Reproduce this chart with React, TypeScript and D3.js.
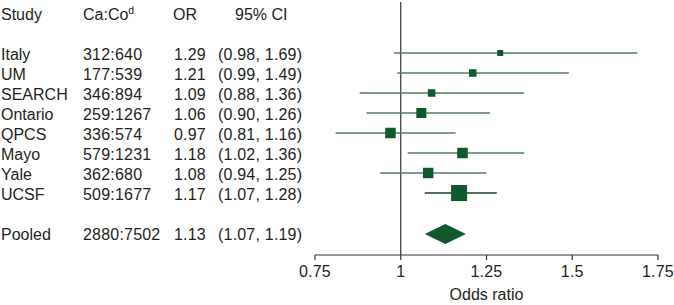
import React from "react";
import * as d3 from "d3";

const studies = ["Italy", "UM", "SEARCH", "Ontario", "QPCS", "Mayo", "Yale", "UCSF"];
const caco = ["312:640", "177:539", "346:894", "259:1267", "336:574", "579:1231", "362:680", "509:1677"];
const orValues = [1.29, 1.21, 1.09, 1.06, 0.97, 1.18, 1.08, 1.17];
const ciLow = [0.98, 0.99, 0.88, 0.9, 0.81, 1.02, 0.94, 1.07];
const ciHigh = [1.69, 1.49, 1.36, 1.26, 1.16, 1.36, 1.25, 1.28];
const weights = [6, 7.5, 7.5, 10, 10.5, 10.5, 10.5, 16];
const pooled = { label: "Pooled", caco: "2880:7502", or: 1.13, lo: 1.07, hi: 1.19 };
const ticks = [0.75, 1, 1.25, 1.5, 1.75];
const tickLabels = ["0.75", "1", "1.25", "1.5", "1.75"];

const W = 674;
const H = 305;
const FONT = "'Liberation Sans', Arial, Helvetica, sans-serif";
const SQ = "#0f5a2d";
const LN = "#4f7f5f";
const AX = "#333333";
const TX = "#231f20";

const fmt = (v: number) => v.toFixed(2);

export default function App() {
  const x = d3.scaleLinear().domain([0.75, 1.75]).range([315, 658]);
  const y = d3
    .scaleLinear()
    .domain([0, studies.length - 1])
    .range([54, 194]);
  const yPooled = 234;
  const axisY = 255;
  const colStudy = 1;
  const colCaco = 83;
  const colOR = 174;
  const colCI = 218;
  const numStyle = { letterSpacing: "0.2px" } as React.CSSProperties;
  const diamond = d3.line<[number, number]>()([
    [x(pooled.lo), yPooled],
    [x(pooled.or), yPooled - 10],
    [x(pooled.hi), yPooled],
    [x(pooled.or), yPooled + 10],
  ]) + "Z";

  return (
    <svg
      width={W}
      height={H}
      style={{ position: "absolute", left: 0, top: 0, background: "#fff" }}
      fontFamily={FONT}
      fontSize={16}
    >
      <rect x={0} y={0} width={W} height={H} fill="#fff" />
      {/* header */}
      <g fill={TX}>
        <text x={colStudy} y={20}>Study</text>
        <text x={colCaco} y={20}>
          Ca:Co
          <tspan fontSize={10.5} dy={-6}>d</tspan>
        </text>
        <text x={colOR - 1} y={20}>OR</text>
        <text x={235} y={20}>95% CI</text>
      </g>
      {/* reference line */}
      <line x1={x(1)} x2={x(1)} y1={2} y2={axisY} stroke={AX} strokeWidth={1.2} />
      {/* rows */}
      {studies.map((s, i) => {
        const cy = y(i);
        const w = weights[i];
        return (
          <g key={s}>
            <text x={colStudy} y={cy + 6} fill={TX}>{s}</text>
            <text x={colCaco} y={cy + 6} fill={TX} style={numStyle}>{caco[i]}</text>
            <text x={colOR} y={cy + 6} fill={TX} style={numStyle}>{fmt(orValues[i])}</text>
            <text x={colCI} y={cy + 6} fill={TX} style={numStyle}>
              ({fmt(ciLow[i])}, {fmt(ciHigh[i])})
            </text>
            <line
              x1={x(ciLow[i])}
              x2={x(ciHigh[i])}
              y1={cy - 1}
              y2={cy - 1}
              stroke={i === studies.length - 1 ? "#1f3f2a" : LN}
              strokeWidth={1.3}
            />
            <rect
              x={x(orValues[i]) - w / 2}
              y={cy - 1 - w / 2}
              width={w}
              height={w}
              fill={SQ}
            />
          </g>
        );
      })}
      {/* pooled */}
      <g>
        <text x={colStudy} y={yPooled + 6} fill={TX}>{pooled.label}</text>
        <text x={colCaco} y={yPooled + 6} fill={TX} style={numStyle}>{pooled.caco}</text>
        <text x={colOR} y={yPooled + 6} fill={TX} style={numStyle}>{fmt(pooled.or)}</text>
        <text x={colCI} y={yPooled + 6} fill={TX} style={numStyle}>
          ({fmt(pooled.lo)}, {fmt(pooled.hi)})
        </text>
        <path d={diamond} fill={SQ} />
      </g>
      {/* axis */}
      <g>
        <line x1={x(0.75)} x2={x(1.75)} y1={axisY} y2={axisY} stroke={AX} strokeWidth={1.2} />
        {ticks.map((t, i) => (
          <g key={t}>
            <line x1={x(t)} x2={x(t)} y1={axisY} y2={axisY + 5} stroke={AX} strokeWidth={1.2} />
            <text x={x(t)} y={277} textAnchor="middle" fill={TX} style={numStyle}>
              {tickLabels[i]}
            </text>
          </g>
        ))}
        <text x={(x(0.75) + x(1.75)) / 2} y={300} textAnchor="middle" fill={TX}>
          Odds ratio
        </text>
      </g>
    </svg>
  );
}
